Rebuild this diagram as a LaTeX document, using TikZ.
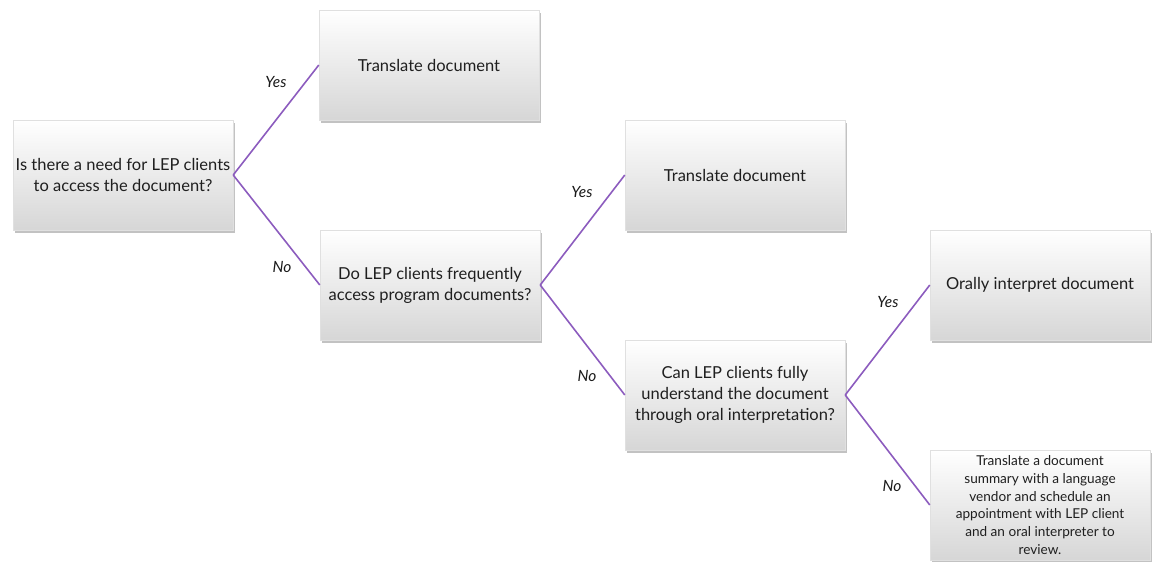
\documentclass[tikz,border=0pt]{standalone}
\usepackage{fontspec}
\setmainfont{Lato}
\usepackage{tikz}
\usetikzlibrary{shadows,positioning}
\definecolor{branchpurple}{RGB}{140,92,190}

\begin{document}
\begin{tikzpicture}[
    x=1pt, y=-1pt,
    box/.style={draw=black!12, top color=white, middle color=white, bottom color=black!16,
      minimum width=220pt, minimum height=110pt, inner sep=2pt, align=center,
      text=black!88, font=\fontsize{16.5}{21}\selectfont,
      drop shadow={shadow xshift=2pt, shadow yshift=-2.5pt, opacity=0.4, fill=black!60}},
    smallbox/.style={box, font=\fontsize{13.6}{17.8}\selectfont},
    branch/.style={branchpurple, line width=1.6pt},
    answer/.style={font=\itshape\fontsize{15.5}{17}\selectfont, text=black!90},
  ]
    \useasboundingbox (0,0) rectangle (1159,562);
    % question boxes
    \node[box] (need) at (123,175) {Is there a need for LEP clients\\to access the document?};
    \node[box] (freq) at (430,285) {Do LEP clients frequently\\access program documents?};
    \node[box] (oral) at (735,395) {Can LEP clients fully\\understand the document\\through oral interpretation?};
    % outcome boxes
    \node[box] (trA) at (429,65) {Translate document};
    \node[box] (trB) at (735,175) {Translate document};
    \node[box] (interp) at (1040,285) {Orally interpret document};
    \node[smallbox] (summ) at (1040,505) {Translate a document\\summary with a language\\vendor and schedule an\\appointment with LEP client\\and an oral interpreter to\\review.};
    % branches
    \draw[branch] (need.east) -- (trA.west);
    \draw[branch] (need.east) -- (freq.west);
    \draw[branch] (freq.east) -- (trB.west);
    \draw[branch] (freq.east) -- (oral.west);
    \draw[branch] (oral.east) -- (interp.west);
    \draw[branch] (oral.east) -- (summ.west);
    % yes / no labels
    \node[answer] (yesA) at (276,82) {Yes};
    \node[answer] (noA) at (282,267) {No};
    \node[answer] (yesB) at (582,192) {Yes};
    \node[answer] (noB) at (587,376) {No};
    \node[answer] (yesC) at (888,302) {Yes};
    \node[answer] (noC) at (892,486) {No};
  \end{tikzpicture}
\end{document}
